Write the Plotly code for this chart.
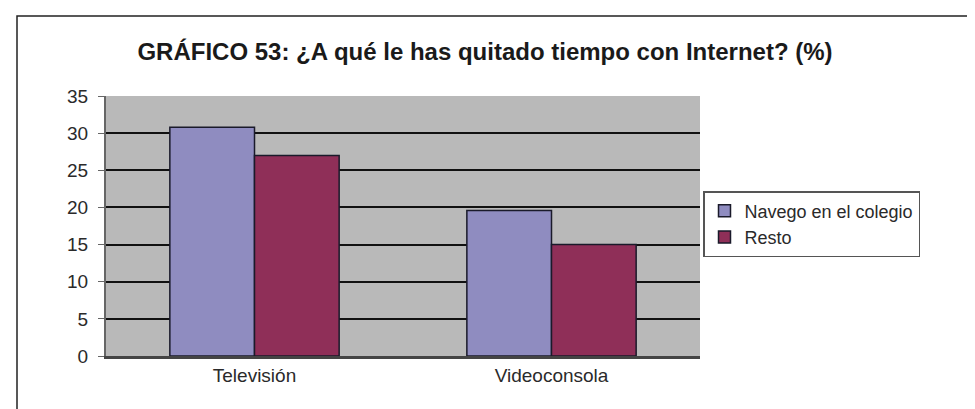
import plotly.graph_objects as go

categorias = ["Televisión", "Videoconsola"]
navego_colegio = [30.8, 19.6]
resto = [27.0, 15.0]
y_ticks = [0, 5, 10, 15, 20, 25, 30, 35]

W, H = 975, 409
L, R, T, B = 98, 283, 88, 61
pw = W - L - R
ph = H - T - B

fig = go.Figure()
fig.add_trace(go.Bar(
    x=categorias, y=navego_colegio, name="Navego en el colegio",
    marker=dict(color="#8f8cc0", line=dict(color="#1a1a2a", width=1.5)),
))
fig.add_trace(go.Bar(
    x=categorias, y=resto, name="Resto",
    marker=dict(color="#8f2f58", line=dict(color="#1a1a2a", width=1.5)),
))

fig.update_layout(
    width=W, height=H,
    margin=dict(l=L, r=R, t=T, b=B),
    paper_bgcolor="white",
    plot_bgcolor="#b9b9b9",
    font=dict(family="Liberation Sans, Arial, sans-serif", size=19, color="#2a2a2a"),
    title=dict(
        text="<b>GRÁFICO 53: ¿A qué le has quitado tiempo con Internet? (%)</b>",
        x=477 / W, xanchor="center", y=1 - 44 / H, yanchor="middle",
        font=dict(size=24, color="#1a1a1a"),
    ),
    barmode="group",
    bargap=0.43,
    bargroupgap=0,
    showlegend=True,
    legend=dict(
        x=(695 - L) / pw, y=1 - (183 - T) / ph, xanchor="left", yanchor="top",
        bgcolor="white", bordercolor="#555", borderwidth=1.5,
        font=dict(size=18, color="#2a2a2a"),
        itemwidth=30, tracegroupgap=0,
    ),
    xaxis=dict(
        showgrid=False, showline=True, linecolor="#444", linewidth=3,
        ticks="", tickfont=dict(size=19), mirror=False,
    ),
    yaxis=dict(
        range=[0, 35], tickvals=y_ticks, showgrid=True, gridcolor="#111",
        gridwidth=2, zeroline=False, showline=True, linecolor="#666",
        linewidth=2, ticks="outside", ticklen=6, tickcolor="#666",
        ticklabelstandoff=6, tickfont=dict(size=19),
    ),
    shapes=[
        dict(type="rect", xref="paper", yref="paper",
             x0=(9 - L) / pw, x1=(W + 5 - L) / pw,
             y0=-(B + 5) / ph, y1=1 + (T - 8) / ph,
             line=dict(color="#222", width=1.5), fillcolor="rgba(0,0,0,0)",
             layer="below"),
    ],
)

fig.write_html("out.html")
